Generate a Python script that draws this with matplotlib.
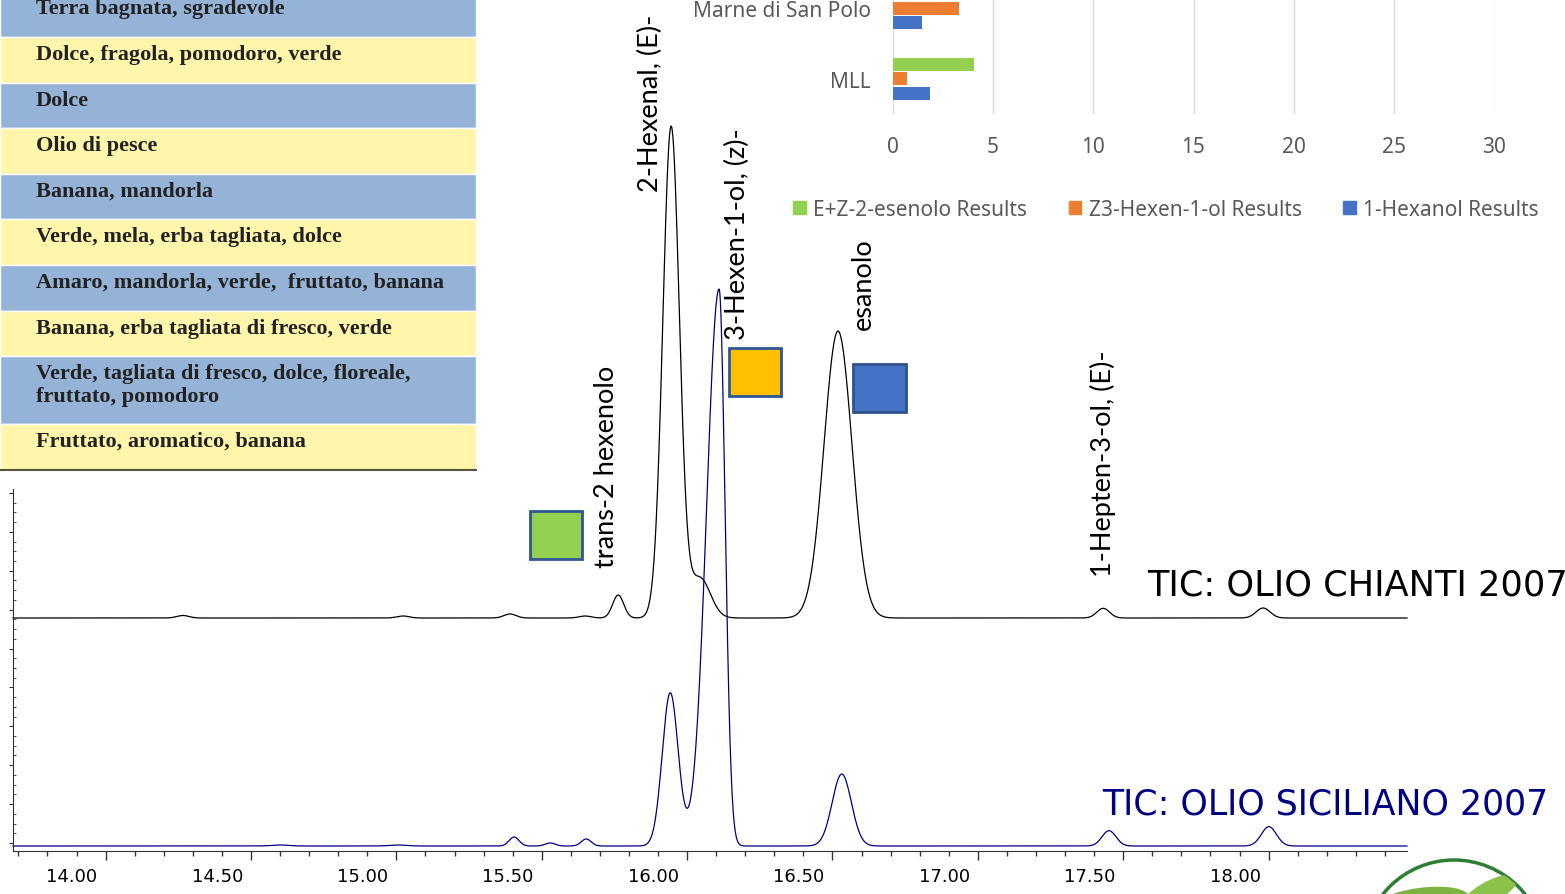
import numpy as np
import matplotlib
matplotlib.use("Agg")
import matplotlib.pyplot as plt
from matplotlib.patches import Rectangle, Circle, Ellipse, Patch
from matplotlib.ticker import FixedLocator
from matplotlib.transforms import ScaledTranslation

W, H, DPI = 1565, 895, 100

# --- data ---
# descrittori olfattivi (tabella in alto a sinistra)
descrittori = [
    "Terra bagnata, sgradevole",
    "Dolce, fragola, pomodoro, verde",
    "Dolce",
    "Olio di pesce",
    "Banana, mandorla",
    "Verde, mela, erba tagliata, dolce",
    "Amaro, mandorla, verde,  fruttato, banana",
    "Banana, erba tagliata di fresco, verde",
    "Verde, tagliata di fresco, dolce, floreale,\nfruttato, pomodoro",
    "Fruttato, aromatico, banana",
]

# bar chart (in alto a destra)
siti = ["MLL", "Marne di San Polo"]
ez_esenolo = [4.05, 15.6]
z3_hexenol = [0.7, 3.27]
hexanol = [1.85, 1.45]
serie_nomi = ["E+Z-2-esenolo Results", "Z3-Hexen-1-ol Results", "1-Hexanol Results"]

# TIC chromatograms: peak retention time [min], height, sigma left/right [min]
chianti_t = [14.266, 15.023, 15.391, 15.649, 15.763, 15.945, 16.044, 16.519, 17.431, 17.981]
chianti_h = [2.5, 2.0, 4.0, 2.0, 23, 491, 40, 287, 9.7, 10]
chianti_sl = [0.021, 0.021, 0.021, 0.021, 0.019, 0.0285, 0.036, 0.048, 0.022, 0.024]
chianti_sr = [0.021, 0.021, 0.021, 0.021, 0.019, 0.0285, 0.036, 0.048, 0.022, 0.024]

sicil_t = [14.600, 15.006, 15.405, 15.529, 15.653, 15.942, 16.110, 16.532, 17.451, 18.001]
sicil_h = [1.0, 1.0, 9, 3, 7, 153, 557, 72, 15.3, 19.3]
sicil_sl = [0.03, 0.03, 0.017, 0.017, 0.017, 0.0275, 0.043, 0.033, 0.024, 0.026]
sicil_sr = [0.03, 0.03, 0.017, 0.017, 0.017, 0.0275, 0.0206, 0.033, 0.024, 0.026]

chianti_base = 233
sicil_base = 5

x_labels = ["14.00", "14.50", "15.00", "15.50", "16.00", "16.50", "17.00", "17.50", "18.00"]

peak_labels = ["trans-2 hexenolo", "2-Hexenal, (E)-", "3-Hexen-1-ol, (z)-", "esanolo", "1-Hepten-3-ol, (E)-"]


def picco(t, t0, h, sl, sr):
    s = np.where(t < t0, sl, sr)
    return h * np.exp(-0.5 * ((t - t0) / s) ** 2)


fig = plt.figure(figsize=(W / DPI, H / DPI), dpi=DPI)

# overlay in pixel coordinates (table, labels, markers, logo)
ov = fig.add_axes([0, 0, 1, 1], zorder=0)
ov.set_xlim(0, W)
ov.set_ylim(H, 0)
ov.axis("off")

# table
row_edges = [-8, 38, 84, 129, 175, 220, 266, 312, 357, 425, 471]
for i, txt in enumerate(descrittori):
    y0, y1 = row_edges[i], row_edges[i + 1]
    col = "#95B3D7" if i % 2 == 0 else "#FFF5AB"
    ov.add_patch(Rectangle((0, y0), 476, y1 - y0, facecolor=col, edgecolor="white", lw=1))
    ov.text(36, y0 + 7, txt, ha="left", va="top", fontsize=16, fontweight="bold",
            family="Liberation Serif", color="#222222", linespacing=1.2)
ov.plot([0, 476], [471, 471], color="#55553f", lw=1.5)

# coloured markers
ov.add_patch(Rectangle((530, 512), 52, 48, facecolor="#92D050", edgecolor="#2F5597", lw=2))
ov.add_patch(Rectangle((729, 349), 52, 48, facecolor="#FFC000", edgecolor="#2F5597", lw=2))
ov.add_patch(Rectangle((853, 365), 53, 48, facecolor="#4472C4", edgecolor="#2F528F", lw=2))

# peak names
lab_pos = [(607, 568), (650, 192), (737, 340), (863, 330), (1103, 577)]
for s, (px, py) in zip(peak_labels, lab_pos):
    ov.text(px, py, s, rotation=90, ha="center", va="bottom", fontsize=19.5, family="Lato", color="black")

ov.text(1147, 585, "TIC: OLIO CHIANTI 2007", ha="left", va="center", fontsize=25.3, color="black")
ov.text(1102, 805, "TIC: OLIO SICILIANO 2007", ha="left", va="center", fontsize=25, color="#000080")

# logo (partially visible)
circ = Circle((1454, 952), 91, facecolor="white", edgecolor="#2E7D32", lw=2.5)
ov.add_patch(circ)
for (cx, cy, w, h, a, c) in [(1420, 905, 100, 32, -8, "#7CB342"), (1490, 893, 62, 22, -28, "#8BC34A")]:
    e = Ellipse((cx, cy), w, h, angle=a, facecolor=c, edgecolor="none")
    ov.add_patch(e)
    e.set_clip_path(circ)

# --- chromatograms ---
ax = fig.add_axes([13 / W, (H - 852) / H, (1407 - 13) / W, (852 - 490) / H], zorder=2)
ax.patch.set_alpha(0)
t = np.linspace(13.6815, 18.476, 4000)
y_ch = chianti_base + sum(picco(t, *p) for p in zip(chianti_t, chianti_h, chianti_sl, chianti_sr))
y_si = sicil_base + sum(picco(t, *p) for p in zip(sicil_t, sicil_h, sicil_sl, sicil_sr))
ax.plot(t, y_ch, color="black", lw=0.9, clip_on=False)
ax.plot(t, y_si, color="#000080", lw=0.9, clip_on=False)
ax.set_xlim(13.6815, 18.476)
ax.set_ylim(0, 362)
for s in ["top", "right"]:
    ax.spines[s].set_visible(False)
ax.spines["left"].set_color("#333333")
ax.spines["bottom"].set_color("#333333")

ax.set_xticks(np.arange(14.0, 18.01, 0.5), labels=x_labels)
ax.xaxis.set_minor_locator(FixedLocator(np.arange(13.7, 18.45, 0.1)))
ax.tick_params(axis="x", which="major", length=6.5, width=1, color="#333333", labelsize=13, pad=5)
ax.tick_params(axis="x", which="minor", length=3.6, width=1, color="#333333")
off = ScaledTranslation(-0.336, 0, fig.dpi_scale_trans)
for lab in ax.get_xticklabels():
    lab.set_transform(lab.get_transform() + off)

ax.yaxis.set_major_locator(FixedLocator(np.arange(8, 362, 38.9)))
ax.yaxis.set_minor_locator(FixedLocator(np.arange(8, 362, 9.725)))
ax.tick_params(axis="y", which="major", length=3, direction="out", labelleft=False, color="#333333")
ax.tick_params(axis="y", which="minor", length=2, direction="in", color="#333333")

# --- bar chart ---
bx = fig.add_axes([893 / W, (H - 115) / H, 601 / W, 141 / H], zorder=1)
bx.patch.set_alpha(0)
pos = np.arange(len(siti))
bh = 0.19
bx.barh(pos + 0.206, ez_esenolo, height=bh, color="#92D050")
bx.barh(pos, z3_hexenol, height=bh, color="#ED7D31")
bx.barh(pos - 0.206, hexanol, height=bh, color="#4472C4")
bx.set_xlim(0, 30)
bx.set_ylim(-0.5, 1.5)
bx.set_xticks(np.arange(0, 31, 5))
bx.set_yticks(pos, labels=siti)
bx.grid(axis="x", color="#D9D9D9", lw=1)
bx.set_axisbelow(True)
for s in bx.spines.values():
    s.set_visible(False)
bx.tick_params(axis="both", length=0, labelsize=15, labelcolor="#595959")
bx.tick_params(axis="x", pad=15.5)
bx.tick_params(axis="y", pad=16)
for lab in bx.get_xticklabels() + bx.get_yticklabels():
    lab.set_family("Noto Sans")

handles = [Patch(color=c) for c in ["#92D050", "#ED7D31", "#4472C4"]]
leg = fig.legend(handles, serie_nomi, loc="center", bbox_to_anchor=(1166 / W, (H - 210) / H), ncol=3,
                 frameon=False, handlelength=0.6, handleheight=0.6, handletextpad=0.35, columnspacing=2.0,
                 prop={"family": "Noto Sans", "size": 15})
for tx in leg.get_texts():
    tx.set_color("#595959")

fig.savefig("out.png", dpi=DPI)
